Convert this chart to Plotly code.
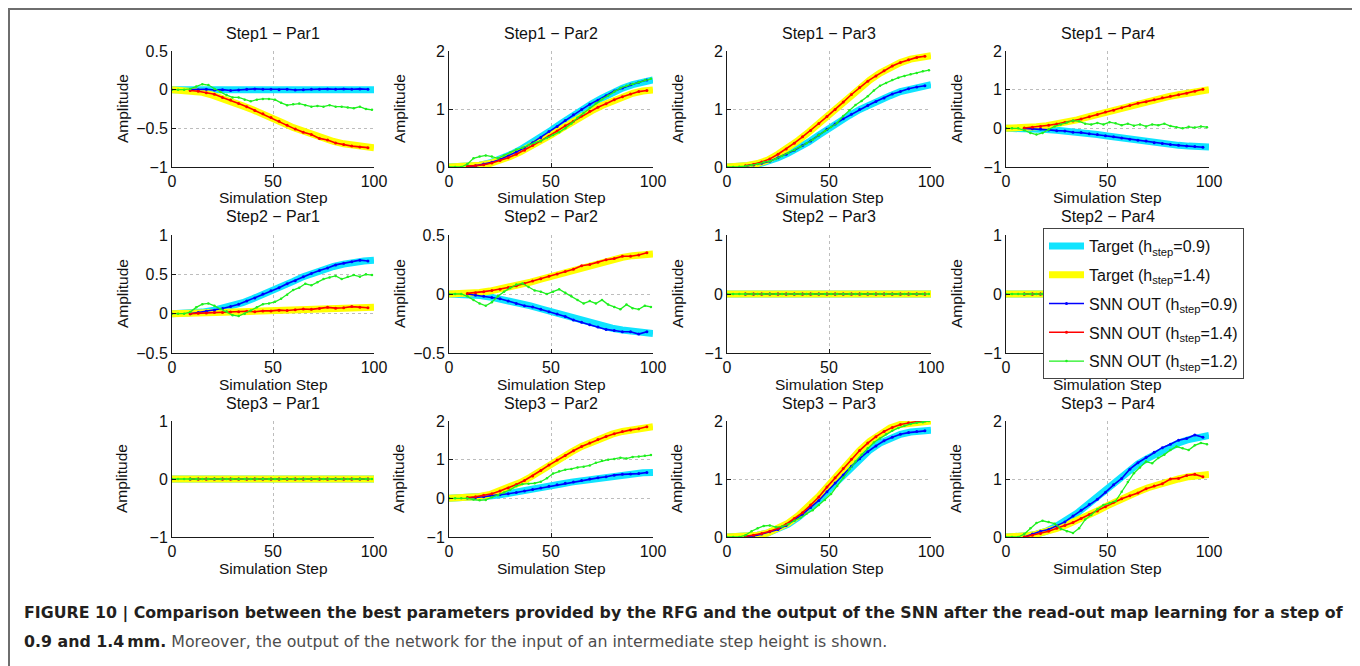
import plotly.graph_objects as go

# The page adds an 8px body margin: the figure is sized so that it ends exactly at the window edge,
# and every reference position is shifted back by 8px.
W, H = 1352, 658
OFF = 8
FONT = "Liberation Sans, Arial, sans-serif"

# ---------------- data ----------------
x_target = [0, 5, 10, 15, 20, 25, 30, 35, 40, 45, 50, 55, 60, 65, 70, 75, 80, 85, 90, 95, 100]
x_snn = [9, 13, 17, 21, 25, 29, 33, 37, 41, 45, 49, 53, 57, 61, 65, 69, 73, 77, 81, 85, 89, 93, 97]
x_green = [0, 3, 6, 9, 12, 15, 18, 21, 24, 27, 30, 33, 36, 39, 42, 45, 48, 51, 54, 57, 60, 63, 66, 69,
           72, 75, 78, 81, 84, 87, 90, 93, 96, 99]

zeros_target = [0, 0, 0, 0, 0, 0, 0, 0, 0, 0, 0, 0, 0, 0, 0, 0, 0, 0, 0, 0, 0]
zeros_snn = [0, 0, 0, 0, 0, 0, 0, 0, 0, 0, 0, 0, 0, 0, 0, 0, 0, 0, 0, 0, 0, 0, 0]
zeros_green = [0, 0, 0, 0, 0, 0, 0, 0, 0, 0, 0, 0, 0, 0, 0, 0, 0, 0, 0, 0, 0, 0, 0, 0, 0, 0, 0, 0, 0, 0,
               0, 0, 0, 0]

# Step1 - Par1
s1p1_t09 = zeros_target
s1p1_t14 = [0, -0.005, -0.015, -0.035, -0.07, -0.11, -0.16, -0.21, -0.26, -0.31, -0.37, -0.43, -0.49,
            -0.54, -0.59, -0.63, -0.67, -0.70, -0.72, -0.74, -0.75]
s1p1_o09 = [0, 0, 0.005, -0.005, 0, -0.01, -0.005, 0.005, 0.01, 0.005, 0.005, 0, 0.005, -0.005, 0, 0.005,
            0.005, 0.01, 0.005, 0.01, 0.005, 0.01, 0.005]
s1p1_o14 = [-0.01, -0.02, -0.04, -0.06, -0.1, -0.135, -0.18, -0.22, -0.27, -0.31, -0.36, -0.41, -0.46,
            -0.51, -0.55, -0.58, -0.63, -0.65, -0.69, -0.71, -0.73, -0.74, -0.75]
s1p1_o12 = [0, 0, 0, 0.01, 0.04, 0.07, 0.06, 0.01, -0.03, -0.07, -0.1, -0.1, -0.13, -0.15, -0.13, -0.12,
            -0.12, -0.13, -0.17, -0.2, -0.19, -0.18, -0.2, -0.22, -0.21, -0.22, -0.2, -0.22, -0.22, -0.23,
            -0.24, -0.22, -0.25, -0.26]

# Step1 - Par2
s1p2_t09 = [0, 0, 0.01, 0.03, 0.07, 0.13, 0.21, 0.30, 0.40, 0.51, 0.63, 0.75, 0.87, 0.98, 1.09, 1.19,
            1.28, 1.36, 1.42, 1.47, 1.50]
s1p2_t14 = [0, 0, 0.01, 0.03, 0.06, 0.11, 0.18, 0.26, 0.35, 0.45, 0.55, 0.66, 0.77, 0.87, 0.97, 1.06,
            1.14, 1.21, 1.27, 1.31, 1.33]
s1p2_o09 = [0.01, 0.02, 0.05, 0.08, 0.13, 0.19, 0.26, 0.33, 0.42, 0.51, 0.61, 0.7, 0.8, 0.9, 0.99, 1.08,
            1.15, 1.23, 1.31, 1.36, 1.42, 1.46, 1.5]
s1p2_o14 = [0.01, 0.02, 0.04, 0.07, 0.11, 0.16, 0.22, 0.29, 0.37, 0.45, 0.53, 0.62, 0.71, 0.79, 0.88,
            0.96, 1.03, 1.09, 1.16, 1.21, 1.26, 1.3, 1.32]
s1p2_o12 = [0, 0, 0, 0.05, 0.15, 0.18, 0.2, 0.18, 0.15, 0.2, 0.25, 0.3, 0.33, 0.38, 0.42, 0.45, 0.5,
            0.55, 0.6, 0.67, 0.75, 0.85, 0.93, 1.02, 1.1, 1.17, 1.23, 1.3, 1.36, 1.4, 1.43, 1.46, 1.5, 1.52]

# Step1 - Par3
s1p3_t09 = [0, 0.004, 0.02, 0.045, 0.09, 0.16, 0.24, 0.33, 0.43, 0.55, 0.67, 0.78, 0.89, 0.99, 1.08,
            1.16, 1.23, 1.3, 1.35, 1.39, 1.42]
s1p3_t14 = [0, 0.005, 0.025, 0.06, 0.12, 0.22, 0.33, 0.46, 0.6, 0.75, 0.9, 1.06, 1.22, 1.37, 1.5, 1.62,
            1.72, 1.8, 1.86, 1.9, 1.92]
s1p3_o09 = [0.015, 0.035, 0.065, 0.1, 0.16, 0.22, 0.29, 0.37, 0.45, 0.55, 0.65, 0.74, 0.83, 0.91, 0.99,
            1.06, 1.13, 1.19, 1.26, 1.3, 1.35, 1.38, 1.4]
s1p3_o14 = [0.02, 0.045, 0.085, 0.14, 0.22, 0.31, 0.41, 0.52, 0.63, 0.75, 0.87, 0.99, 1.12, 1.25, 1.37,
            1.48, 1.57, 1.66, 1.74, 1.8, 1.85, 1.89, 1.91]
s1p3_o12 = [0, 0, 0.005, 0.015, 0.03, 0.05, 0.08, 0.1, 0.14, 0.19, 0.24, 0.29, 0.35, 0.41, 0.47, 0.55,
            0.62, 0.69, 0.76, 0.88, 0.98, 1.07, 1.14, 1.22, 1.32, 1.4, 1.45, 1.5, 1.54, 1.57, 1.6, 1.62,
            1.65, 1.67]

# Step1 - Par4
s1p4_t09 = [0, 0, -0.005, -0.015, -0.03, -0.05, -0.07, -0.1, -0.13, -0.16, -0.2, -0.24, -0.28, -0.32,
            -0.35, -0.38, -0.41, -0.44, -0.46, -0.47, -0.48]
s1p4_t14 = [0, 0.005, 0.015, 0.04, 0.07, 0.11, 0.16, 0.22, 0.29, 0.36, 0.43, 0.5, 0.57, 0.64, 0.7, 0.76,
            0.82, 0.87, 0.92, 0.97, 1.0]
s1p4_o09 = [0, -0.01, -0.02, -0.04, -0.06, -0.07, -0.1, -0.11, -0.14, -0.16, -0.19, -0.22, -0.25, -0.28,
            -0.31, -0.33, -0.37, -0.39, -0.42, -0.44, -0.46, -0.47, -0.49]
s1p4_o14 = [0.01, 0.03, 0.05, 0.08, 0.11, 0.15, 0.19, 0.24, 0.3, 0.36, 0.42, 0.47, 0.53, 0.59, 0.65,
            0.69, 0.74, 0.79, 0.83, 0.87, 0.91, 0.96, 1.01]
s1p4_o12 = [0, 0, 0, -0.05, -0.12, -0.16, -0.12, -0.03, 0.05, 0.1, 0.15, 0.2, 0.18, 0.12, 0.1, 0.14, 0.1,
            0.16, 0.13, 0.08, 0.12, 0.07, 0.1, 0.05, 0.1, 0.08, 0.12, 0.06, 0.03, 0.0, 0.04, 0.02, 0.05,
            0.03]

# Step2 - Par1
s2p1_t09 = [0, 0, 0.005, 0.02, 0.04, 0.07, 0.1, 0.14, 0.19, 0.24, 0.3, 0.36, 0.41, 0.47, 0.52, 0.56,
            0.6, 0.63, 0.66, 0.67, 0.68]
s2p1_t14 = [0, 0, 0, 0.005, 0.01, 0.015, 0.02, 0.025, 0.03, 0.035, 0.04, 0.045, 0.05, 0.055, 0.06, 0.065,
            0.07, 0.075, 0.08, 0.08, 0.08]
s2p1_o09 = [0.0, 0.015, 0.03, 0.045, 0.065, 0.09, 0.12, 0.16, 0.2, 0.25, 0.29, 0.33, 0.38, 0.42, 0.47,
            0.51, 0.55, 0.58, 0.62, 0.64, 0.66, 0.68, 0.67]
s2p1_o14 = [0, 0.005, 0.01, 0.015, 0.015, 0.02, 0.025, 0.03, 0.025, 0.035, 0.035, 0.045, 0.04, 0.05,
            0.06, 0.055, 0.065, 0.08, 0.07, 0.075, 0.09, 0.08, 0.075]
s2p1_o12 = [0, 0, 0, 0.02, 0.08, 0.12, 0.13, 0.1, 0.06, 0.03, -0.02, -0.03, 0.0, 0.04, 0.08, 0.12, 0.13,
            0.15, 0.19, 0.24, 0.3, 0.33, 0.38, 0.36, 0.4, 0.44, 0.46, 0.48, 0.44, 0.47, 0.49, 0.47, 0.5,
            0.49]

# Step2 - Par2
s2p2_t09 = [0, 0, -0.005, -0.012, -0.025, -0.04, -0.06, -0.08, -0.1, -0.125, -0.15, -0.175, -0.2,
            -0.225, -0.25, -0.27, -0.29, -0.305, -0.32, -0.33, -0.335]
s2p2_t14 = [0, 0, 0.005, 0.012, 0.025, 0.04, 0.06, 0.08, 0.1, 0.125, 0.15, 0.175, 0.2, 0.225, 0.25, 0.27,
            0.29, 0.31, 0.325, 0.335, 0.34]
s2p2_o09 = [0, -0.01, -0.02, -0.03, -0.04, -0.06, -0.08, -0.1, -0.11, -0.13, -0.15, -0.17, -0.19, -0.22,
            -0.24, -0.26, -0.28, -0.3, -0.31, -0.32, -0.32, -0.34, -0.32]
s2p2_o14 = [0.005, 0.01, 0.02, 0.03, 0.04, 0.055, 0.07, 0.09, 0.11, 0.13, 0.15, 0.17, 0.19, 0.21, 0.24,
            0.25, 0.27, 0.29, 0.3, 0.32, 0.32, 0.33, 0.35]
s2p2_o12 = [0, 0, 0, -0.02, -0.05, -0.08, -0.1, -0.07, -0.02, 0.02, 0.05, 0.08, 0.09, 0.06, 0.03, 0.02,
            0.0, 0.02, 0.04, 0.01, -0.02, -0.05, -0.08, -0.06, -0.08, -0.05, -0.09, -0.11, -0.13, -0.09,
            -0.12, -0.13, -0.1, -0.11]

# Step3 - Par2
s3p2_t09 = [0, 0.005, 0.015, 0.03, 0.06, 0.09, 0.13, 0.17, 0.22, 0.27, 0.32, 0.37, 0.42, 0.46, 0.5, 0.54,
            0.58, 0.61, 0.64, 0.66, 0.67]
s3p2_t14 = [0, 0.005, 0.02, 0.05, 0.1, 0.19, 0.29, 0.41, 0.55, 0.72, 0.89, 1.05, 1.2, 1.34, 1.46, 1.57,
            1.66, 1.73, 1.78, 1.82, 1.85]
s3p2_o09 = [0.01, 0.02, 0.04, 0.07, 0.09, 0.12, 0.15, 0.19, 0.23, 0.27, 0.31, 0.35, 0.39, 0.42, 0.46,
            0.5, 0.53, 0.56, 0.6, 0.62, 0.63, 0.64, 0.67]
s3p2_o14 = [0.02, 0.04, 0.08, 0.12, 0.19, 0.27, 0.36, 0.46, 0.58, 0.72, 0.86, 0.99, 1.11, 1.23, 1.34,
            1.43, 1.52, 1.6, 1.67, 1.73, 1.77, 1.8, 1.85]
s3p2_o12 = [0, 0, 0, 0, -0.03, -0.05, -0.04, 0.03, 0.08, 0.15, 0.22, 0.32, 0.37, 0.38, 0.39, 0.43, 0.52,
            0.64, 0.7, 0.74, 0.76, 0.8, 0.82, 0.85, 0.92, 0.97, 1.0, 1.02, 1.05, 1.03, 1.07, 1.08, 1.1,
            1.12]

# Step3 - Par3
s3p3_t09 = [0, 0, 0.01, 0.03, 0.07, 0.13, 0.22, 0.34, 0.48, 0.64, 0.82, 1.0, 1.18, 1.35, 1.5, 1.62, 1.71,
            1.77, 1.81, 1.83, 1.84]
s3p3_t14 = [0, 0, 0.01, 0.03, 0.07, 0.14, 0.24, 0.37, 0.52, 0.7, 0.9, 1.1, 1.3, 1.49, 1.65, 1.78, 1.88,
            1.94, 1.97, 1.99, 2.0]
s3p3_o09 = [0.01, 0.02, 0.05, 0.09, 0.13, 0.2, 0.29, 0.39, 0.51, 0.63, 0.78, 0.93, 1.07, 1.22, 1.35,
            1.47, 1.57, 1.66, 1.72, 1.77, 1.8, 1.82, 1.83]
s3p3_o14 = [0.01, 0.03, 0.06, 0.1, 0.15, 0.22, 0.32, 0.42, 0.55, 0.69, 0.86, 1.02, 1.18, 1.34, 1.49,
            1.62, 1.73, 1.82, 1.89, 1.94, 1.97, 1.99, 2.0]
s3p3_o12 = [0, 0, 0, 0.03, 0.1, 0.15, 0.19, 0.2, 0.17, 0.18, 0.22, 0.28, 0.33, 0.4, 0.46, 0.55, 0.64,
            0.74, 0.88, 1.02, 1.17, 1.3, 1.42, 1.53, 1.63, 1.7, 1.77, 1.83, 1.88, 1.92, 1.95, 1.97, 1.98,
            2.0]

# Step3 - Par4
s3p4_t09 = [0, 0.005, 0.02, 0.05, 0.1, 0.19, 0.29, 0.41, 0.55, 0.69, 0.84, 0.99, 1.13, 1.26, 1.36, 1.45,
            1.54, 1.62, 1.68, 1.73, 1.75]
s3p4_t14 = [0, 0.005, 0.02, 0.05, 0.09, 0.15, 0.21, 0.28, 0.36, 0.45, 0.54, 0.63, 0.71, 0.78, 0.85, 0.91,
            0.96, 1.0, 1.04, 1.07, 1.08]
s3p4_o09 = [0.0, 0.05, 0.1, 0.13, 0.19, 0.26, 0.36, 0.46, 0.56, 0.65, 0.77, 0.9, 1.01, 1.17, 1.28, 1.37,
            1.46, 1.54, 1.6, 1.67, 1.7, 1.76, 1.72]
s3p4_o14 = [0.0, 0.03, 0.06, 0.1, 0.15, 0.2, 0.25, 0.32, 0.39, 0.45, 0.52, 0.6, 0.66, 0.71, 0.76, 0.83,
            0.88, 0.92, 1.0, 1.01, 1.06, 1.08, 1.04]
s3p4_o12 = [0, 0, 0, 0.05, 0.15, 0.24, 0.28, 0.26, 0.23, 0.14, 0.1, 0.07, 0.15, 0.3, 0.38, 0.48, 0.55,
            0.58, 0.62, 0.78, 0.95, 1.1, 1.2, 1.3, 1.27, 1.36, 1.42, 1.5, 1.56, 1.53, 1.5, 1.58, 1.62, 1.6]

panel_titles = ["Step1 − Par1", "Step1 − Par2", "Step1 − Par3", "Step1 − Par4",
                "Step2 − Par1", "Step2 − Par2", "Step2 − Par3", "Step2 − Par4",
                "Step3 − Par1", "Step3 − Par2", "Step3 − Par3", "Step3 − Par4"]

panel_series = [
    (s1p1_t09, s1p1_t14, s1p1_o09, s1p1_o14, s1p1_o12),
    (s1p2_t09, s1p2_t14, s1p2_o09, s1p2_o14, s1p2_o12),
    (s1p3_t09, s1p3_t14, s1p3_o09, s1p3_o14, s1p3_o12),
    (s1p4_t09, s1p4_t14, s1p4_o09, s1p4_o14, s1p4_o12),
    (s2p1_t09, s2p1_t14, s2p1_o09, s2p1_o14, s2p1_o12),
    (s2p2_t09, s2p2_t14, s2p2_o09, s2p2_o14, s2p2_o12),
    (zeros_target, zeros_target, zeros_snn, zeros_snn, zeros_green),
    (zeros_target, zeros_target, zeros_snn, zeros_snn, zeros_green),
    (zeros_target, zeros_target, zeros_snn, zeros_snn, zeros_green),
    (s3p2_t09, s3p2_t14, s3p2_o09, s3p2_o14, s3p2_o12),
    (s3p3_t09, s3p3_t14, s3p3_o09, s3p3_o14, s3p3_o12),
    (s3p4_t09, s3p4_t14, s3p4_o09, s3p4_o14, s3p4_o12),
]

# y-axis ranges and tick labels per panel
y_ranges = [[-1, 0.5], [0, 2], [0, 2], [-1, 2],
            [-0.5, 1], [-0.5, 0.5], [-1, 1], [-1, 1],
            [-1, 1], [-1, 2], [0, 2], [0, 2]]
y_tickvals = [[-1, -0.5, 0, 0.5], [0, 1, 2], [0, 1, 2], [-1, 0, 1, 2],
              [-0.5, 0, 0.5, 1], [-0.5, 0, 0.5], [-1, 0, 1], [-1, 0, 1],
              [-1, 0, 1], [-1, 0, 1, 2], [0, 1, 2], [0, 1, 2]]
y_ticktext = [["−1", "−0.5", "0", "0.5"], ["0", "1", "2"], ["0", "1", "2"], ["−1", "0", "1", "2"],
              ["−0.5", "0", "0.5", "1"], ["−0.5", "0", "0.5"], ["−1", "0", "1"], ["−1", "0", "1"],
              ["−1", "0", "1"], ["−1", "0", "1", "2"], ["0", "1", "2"], ["0", "1", "2"]]
x_tickvals = [0, 50, 100]
x_ticktext = ["0", "50", "100"]

legend_names = ["Target (h<sub>step</sub>=0.9)", "Target (h<sub>step</sub>=1.4)",
                "SNN OUT (h<sub>step</sub>=0.9)", "SNN OUT (h<sub>step</sub>=1.4)",
                "SNN OUT (h<sub>step</sub>=1.2)"]

caption_line1 = ("<b>FIGURE 10 | Comparison between the best parameters provided by the RFG and the "
                 "output of the SNN after the read-out map learning for a step of</b>")
caption_line2 = ("<b>0.9 and 1.4\u2009mm.</b> <span style='color:#4d4d4d'>Moreover, the output of the "
                 "network for the input of an intermediate step height is shown.</span>")

# ---------------- layout geometry (pixels in the 1360x666 picture) ----------------
col_px = [(172, 374), (449, 653), (727, 931), (1006, 1209)]
row_px = [(51, 167), (235, 353), (421, 537)]

CYAN = "#10e4ff"
YELLOW = "#ffff00"
BLUE = "#0000ff"
RED = "#ff0000"
GREEN = "#1ef01e"
GRID = "#bdbdbd"
AX = "#1a1a1a"


def px(x):
    return (x - OFF) / W


def py(y):
    return 1 - (y - OFF) / H


fig = go.Figure()
annotations = []
layout_axes = {}

for i in range(12):
    r, c = divmod(i, 4)
    n = i + 1
    xa = "x" if n == 1 else f"x{n}"
    ya = "y" if n == 1 else f"y{n}"
    xkey = "xaxis" if n == 1 else f"xaxis{n}"
    ykey = "yaxis" if n == 1 else f"yaxis{n}"
    t09, t14, o09, o14, o12 = panel_series[i]
    show = (i == 0)
    fig.add_trace(go.Scatter(x=x_target, y=t09, mode="lines", line=dict(color=CYAN, width=7),
                             name=legend_names[0], showlegend=show, legendgroup="a", xaxis=xa, yaxis=ya))
    fig.add_trace(go.Scatter(x=x_target, y=t14, mode="lines", line=dict(color=YELLOW, width=7),
                             name=legend_names[1], showlegend=show, legendgroup="b", xaxis=xa, yaxis=ya))
    fig.add_trace(go.Scatter(x=x_snn, y=o09, mode="lines+markers", line=dict(color=BLUE, width=1.6),
                             marker=dict(color=BLUE, size=3), name=legend_names[2], showlegend=show,
                             legendgroup="c", xaxis=xa, yaxis=ya))
    fig.add_trace(go.Scatter(x=x_snn, y=o14, mode="lines+markers", line=dict(color=RED, width=1.6),
                             marker=dict(color=RED, size=3), name=legend_names[3], showlegend=show,
                             legendgroup="d", xaxis=xa, yaxis=ya))
    fig.add_trace(go.Scatter(x=x_green, y=o12, mode="lines+markers", line=dict(color=GREEN, width=1.3),
                             marker=dict(color=GREEN, size=2.5), name=legend_names[4], showlegend=show,
                             legendgroup="e", xaxis=xa, yaxis=ya))

    x0, x1 = col_px[c]
    y0, y1 = row_px[r]
    common = dict(showgrid=True, gridcolor=GRID, griddash="dot", gridwidth=1, zeroline=False,
                  showline=True, linecolor=AX, linewidth=1, ticks="inside", ticklen=4, tickcolor=AX,
                  automargin=False,
                  tickfont=dict(family=FONT, size=16, color="#111111"), fixedrange=True)
    layout_axes[xkey] = dict(domain=[px(x0), px(x1)], anchor=ya, range=[0, 100], tickvals=x_tickvals,
                             ticktext=x_ticktext, **common)
    layout_axes[ykey] = dict(domain=[py(y1), py(y0)], anchor=xa, range=y_ranges[i],
                             tickvals=y_tickvals[i], ticktext=y_ticktext[i], **common)

    cx = (x0 + x1) / 2
    annotations.append(dict(text=panel_titles[i], x=px(cx), y=py(y0 - 18), xref="paper", yref="paper",
                            xanchor="center", yanchor="middle", showarrow=False,
                            font=dict(family=FONT, size=16, color="#111111")))
    annotations.append(dict(text="Simulation Step", x=px(cx), y=py(y1 + 31), xref="paper", yref="paper",
                            xanchor="center", yanchor="middle", showarrow=False,
                            font=dict(family=FONT, size=15.5, color="#111111")))
    annotations.append(dict(text="Amplitude", x=px(x0 - 50), y=py((y0 + y1) / 2), xref="paper",
                            yref="paper", xanchor="center", yanchor="middle", textangle=-90,
                            showarrow=False, font=dict(family=FONT, size=15.5, color="#111111")))

annotations.append(dict(text=caption_line1, x=px(22), y=py(613), xref="paper", yref="paper",
                        xanchor="left", yanchor="middle", showarrow=False, align="left",
                        font=dict(family="DejaVu Sans, sans-serif", size=15.8, color="#231f20")))
annotations.append(dict(text=caption_line2, x=px(22), y=py(641), xref="paper", yref="paper",
                        xanchor="left", yanchor="middle", showarrow=False, align="left",
                        font=dict(family="DejaVu Sans, sans-serif", size=15.8, color="#231f20")))

# outer frame of the figure panel (left, top, right)
shapes = [
    dict(type="line", xref="paper", yref="paper", x0=px(9), x1=px(9), y0=py(8), y1=py(680),
         line=dict(color="#6e6e6e", width=2)),
    dict(type="line", xref="paper", yref="paper", x0=px(8), x1=px(1356), y0=py(9), y1=py(9),
         line=dict(color="#6e6e6e", width=2)),
    dict(type="line", xref="paper", yref="paper", x0=px(1355), x1=px(1355), y0=py(8), y1=py(680),
         line=dict(color="#5a5a5a", width=2.4)),
]

fig.update_layout(
    template="none",
    width=W, height=H, autosize=False,
    margin=dict(l=0, r=0, t=0, b=0, pad=0, autoexpand=False),
    paper_bgcolor="white", plot_bgcolor="white",
    font=dict(family=FONT, size=15, color="#111111"),
    showlegend=True,
    legend=dict(x=px(1043), y=py(228), xanchor="left", yanchor="top", bgcolor="white",
                bordercolor="#444444", borderwidth=1, font=dict(family=FONT, size=16, color="#111111"),
                itemwidth=35, tracegroupgap=5),
    annotations=annotations,
    shapes=shapes,
    **layout_axes,
)

fig.write_html("out.html")
